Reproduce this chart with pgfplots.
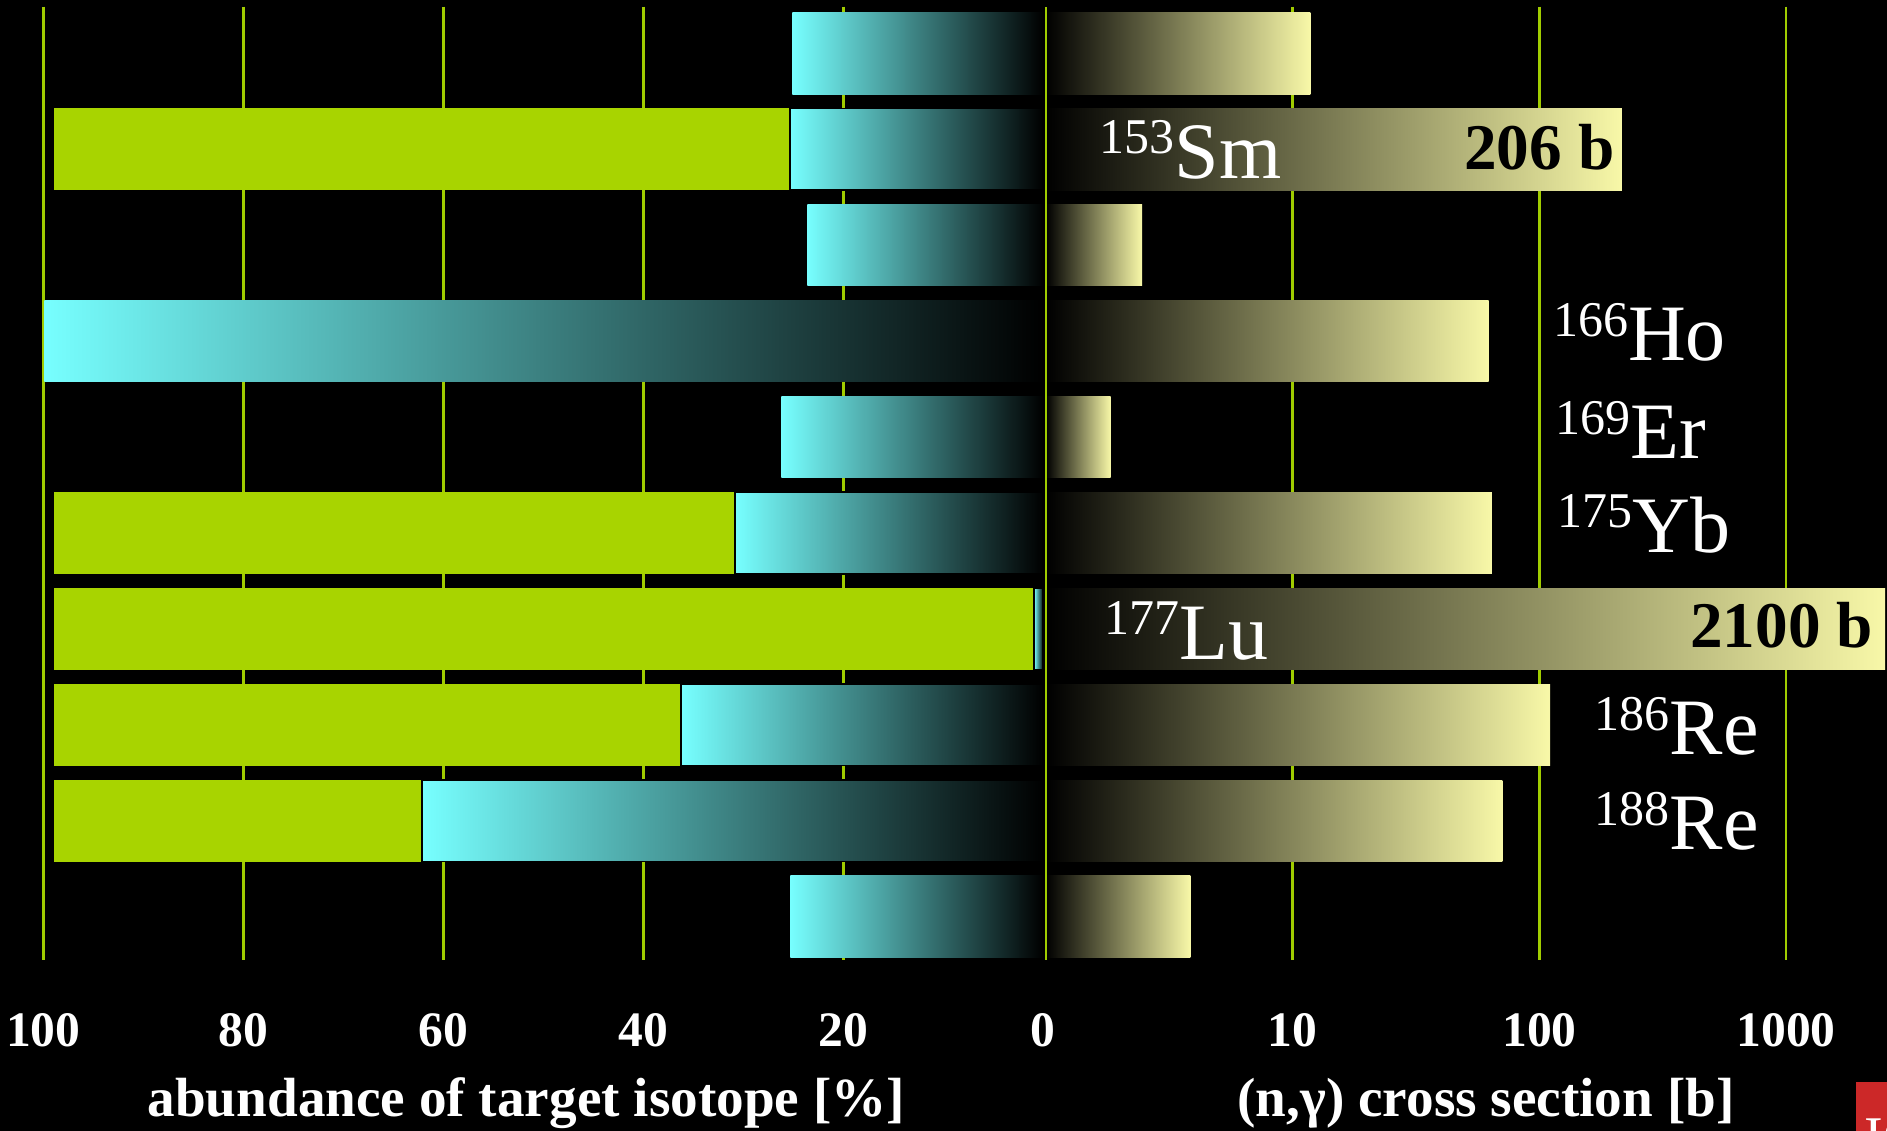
\documentclass[border=0pt]{standalone}
\usepackage{fontspec}
\setmainfont{Liberation Serif}
\usepackage{pgfplots}
\pgfplotsset{compat=1.18}
\definecolor{gridc}{RGB}{160,204,0}
\definecolor{greenbar}{RGB}{168,212,0}
\definecolor{cyanbar}{RGB}{119,255,255}
\definecolor{yellowbar}{RGB}{248,248,168}
\definecolor{logored}{RGB}{204,40,40}
\newcommand{\iso}[2]{{\fontsize{20}{24}\selectfont\raisebox{6.1pt}{\fontsize{12.5}{14}\selectfont #1}#2}}
\pgfplotsset{
  hbar/.style={xbar, bar shift=0pt, bar width=0.85, draw=none},
  cyanb/.style={hbar, left color=cyanbar, right color=black},
  cyanbo/.style={cyanb, draw=black, line width=0.4pt},
  greenb/.style={hbar, fill=greenbar},
  yellowb/.style={hbar, left color=black, right color=yellowbar},
  base/.style={
    scale only axis, height=238.325pt, anchor=south west,
    y dir=reverse, ymin=0.514, ymax=10.451,
    axis line style={draw=none},
    ytick=\empty, major tick length=0pt, minor tick length=0pt,
    minor x tick num=0, minor tick style={draw=none},
    xmajorgrids, grid style={gridc, line width=0.65pt},
    xticklabel style={font=\fontsize{12.4}{14}\selectfont\bfseries, text=white, anchor=north, inner sep=0pt, yshift=-13.3pt},
    clip=false,
  },
}
\begin{document}
\begin{tikzpicture}
\useasboundingbox (0,0) rectangle (471.75pt,282.75pt);
\fill[black] (0,0) rectangle (471.75pt,282.75pt);
% left: abundance of target isotope [%]
\begin{axis}[base, at={(10.825pt,42.75pt)}, width=250pt,
  x dir=reverse, xmin=0, xmax=100,
  xtick={20,40,60,80,100}, xticklabels={20,40,60,80,100},
  extra x ticks={0}, extra x tick labels={0}, extra x tick style={grid=none}]
\addplot[greenb] coordinates {(98.9,2)};
\addplot[greenb] coordinates {(98.9,6)};
\addplot[greenb] coordinates {(98.9,7)};
\addplot[greenb] coordinates {(98.9,8)};
\addplot[greenb] coordinates {(98.9,9)};
\addplot[cyanb] coordinates {(25.1,1)};
\addplot[cyanbo] coordinates {(25.3,2)};
\addplot[cyanb] coordinates {(23.6,3)};
\addplot[cyanb] coordinates {(99.9,4)};
\addplot[cyanb] coordinates {(26.2,5)};
\addplot[cyanbo] coordinates {(30.8,6)};
\addplot[cyanbo] coordinates {(0.9,7)};
\addplot[cyanbo] coordinates {(36.2,8)};
\addplot[cyanbo] coordinates {(62.1,9)};
\addplot[cyanb] coordinates {(25.3,10)};
\end{axis}
% right: (n,gamma) cross section [b]
\begin{axis}[base, at={(261.5pt,42.75pt)}, width=210.25pt,
  xmode=log, xmin=1, xmax=2565, log origin=0,
  xminorgrids=false,
  xtick={10,100,1000}, xticklabels={10,100,1000}]
\addplot[yellowb] coordinates {(11.8,1)};
\addplot[yellowb] coordinates {(216,2)};
\addplot[yellowb] coordinates {(2.45,3)};
\addplot[yellowb] coordinates {(62.2,4)};
\addplot[yellowb] coordinates {(1.83,5)};
\addplot[yellowb] coordinates {(64.1,6)};
\addplot[yellowb] coordinates {(2518,7)};
\addplot[yellowb] coordinates {(110.4,8)};
\addplot[yellowb] coordinates {(70.8,9)};
\addplot[yellowb] coordinates {(3.85,10)};
\draw[gridc, line width=0.65pt] (rel axis cs:0,0) -- (rel axis cs:0,1);
\end{axis}
% isotope labels
\begin{scope}[every node/.style={anchor=base west, inner sep=0pt, text=white}]
\node at (274.7pt,238.2pt) {\iso{153}{Sm}};
\node at (388.1pt,192.5pt) {\iso{166}{Ho}};
\node at (388.6pt,168.1pt) {\iso{169}{Er}};
\node at (389.2pt,144.7pt) {\iso{175}{Yb}};
\node at (276.0pt,117.9pt) {\iso{177}{Lu}};
\node at (398.5pt,94.0pt) {\iso{186}{Re}};
\node at (398.5pt,70.25pt) {\iso{188}{Re}};
\end{scope}
\begin{scope}[every node/.style={anchor=base east, inner sep=0pt, text=black, font=\fontsize{16.3}{18}\selectfont\bfseries}]
\node at (403.8pt,240.25pt) {206 b};
\node at (468.5pt,120.8pt) {2100 b};
\end{scope}
% axis titles
\begin{scope}[every node/.style={anchor=base, inner sep=0pt, text=white, font=\fontsize{13.8}{16}\selectfont\bfseries}]
\node at (131.6pt,3.575pt) {abundance of target isotope [\%]};
\node at (371.5pt,3.575pt) {(n,γ) cross section [b]};
\end{scope}
% logo corner (cut off at the edge, as in the reference)
\begin{scope}
\clip (464pt,0pt) rectangle (471.75pt,12.2pt);
\fill[logored] (464pt,0pt) rectangle (471.75pt,12.2pt);
\node[anchor=north west, inner sep=0pt, text=white, font=\fontsize{14}{14}\selectfont] at (466pt,3.3pt) {IC};
\end{scope}
\end{tikzpicture}
\end{document}
